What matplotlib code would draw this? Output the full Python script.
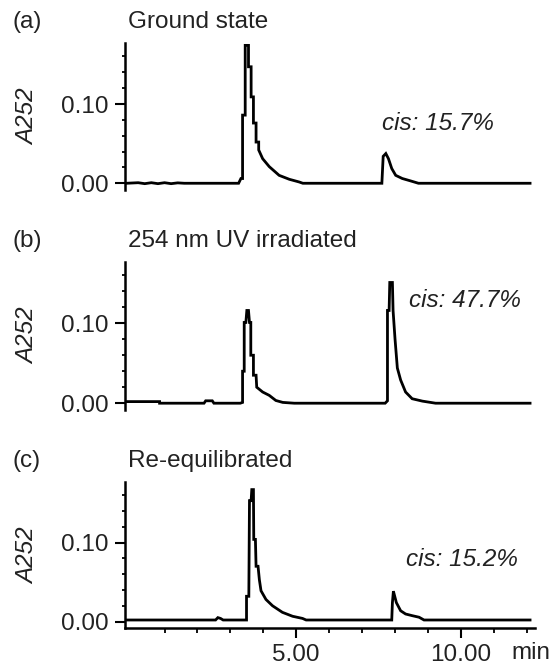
import matplotlib
matplotlib.use("Agg")
import matplotlib.pyplot as plt
from matplotlib.ticker import FixedLocator, MultipleLocator, FormatStrFormatter

plt.rcParams['font.family'] = ['Liberation Sans', 'DejaVu Sans']

# ---- data (retention time in min, absorbance at 252 nm) ----
time_a = [-0.15, 0.2, 0.4, 0.6, 0.8, 1.0, 1.2, 1.4, 1.6, 3.25, 3.32, 3.37, 3.37, 3.45, 3.45,
          3.55, 3.55, 3.63, 3.63, 3.70, 3.70, 3.78, 3.78, 3.86, 3.86, 3.98, 4.18, 4.48, 4.79,
          5.09, 5.20, 7.60, 7.64, 7.72, 7.80, 7.90, 8.02, 8.22, 8.47, 8.71, 12.1]
abs_a = [0.000, 0.0007, -0.0005, 0.0007, -0.0005, 0.0007, -0.0005, 0.0005, 0.000, 0.000, 0.006,
         0.006, 0.086, 0.086, 0.174, 0.174, 0.147, 0.147, 0.109, 0.109, 0.076, 0.076, 0.052,
         0.052, 0.042, 0.031, 0.021, 0.010, 0.005, 0.0016, 0.000, 0.000, 0.034, 0.0375, 0.031,
         0.0186, 0.010, 0.006, 0.003, 0.000, 0.000]

time_b = [-0.15, 0.85, 0.85, 2.2, 2.25, 2.45, 2.5, 3.30, 3.37, 3.37, 3.42, 3.42, 3.47, 3.50,
          3.55, 3.58, 3.62, 3.62, 3.70, 3.70, 3.78, 3.80, 3.98, 4.18, 4.38, 4.59, 4.94,
          7.70, 7.77, 7.77, 7.82, 7.84, 7.92, 7.94, 8.00, 8.07, 8.17, 8.32, 8.52, 8.83, 9.23, 12.1]
abs_b = [0.002, 0.002, 0.000, 0.000, 0.003, 0.003, 0.000, 0.000, 0.001, 0.040, 0.040, 0.101,
         0.101, 0.116, 0.116, 0.101, 0.101, 0.060, 0.060, 0.035, 0.035, 0.020, 0.014, 0.0098,
         0.0034, 0.001, 0.000, 0.000, 0.003, 0.116, 0.116, 0.151, 0.151, 0.116, 0.080, 0.044,
         0.029, 0.014, 0.0056, 0.0026, 0.000, 0.000]

time_c = [-0.15, 2.55, 2.62, 2.70, 2.78, 3.49, 3.49, 3.56, 3.58, 3.63, 3.65, 3.70, 3.71, 3.76,
          3.78, 3.84, 3.88, 3.93, 4.08, 4.28, 4.58, 4.89, 5.19, 5.30, 7.90, 7.92, 7.95, 8.04,
          8.17, 8.32, 8.52, 8.73, 8.88, 12.1]
abs_c = [0.002, 0.002, 0.005, 0.004, 0.002, 0.002, 0.032, 0.032, 0.153, 0.153, 0.167, 0.167,
         0.104, 0.104, 0.070, 0.070, 0.053, 0.039, 0.028, 0.020, 0.0117, 0.0067, 0.004, 0.002,
         0.002, 0.024, 0.0385, 0.024, 0.0137, 0.0096, 0.0075, 0.0055, 0.002, 0.002]

panel_tags = ["(a)", "(b)", "(c)"]
panel_titles = ["Ground state", "254 nm UV irradiated", "Re-equilibrated"]
cis_labels = ["cis: 15.7%", "cis: 47.7%", "cis: 15.2%"]
cis_pos = [(7.6, 0.076), (8.42, 0.129), (8.32, 0.078)]
y_ticks = [0.00, 0.10]
x_ticks = [5.0, 10.0]
x_minor = [1, 2, 3, 4, 6, 7, 8, 9, 11, 12]

W, H = 552, 668
fig = plt.figure(figsize=(W / 100, H / 100), dpi=100)

FS = 17.5
TXT = '#222222'
axes_px = [(43, 190), (261.7, 410), (481.7, 628.3)]  # top, bottom in px
left_px, right_px = 125, 535
traces = [(time_a, abs_a), (time_b, abs_b), (time_c, abs_c)]
YMIN, YMAX = -0.0085, 0.177

for i, ((top, bot), (t, a)) in enumerate(zip(axes_px, traces)):
    ax = fig.add_axes([left_px / W, 1 - bot / H, (right_px - left_px) / W, (bot - top) / H])
    ax.plot(t, a, color='black', lw=2.0, solid_joinstyle='miter', clip_on=False)
    ax.set_xlim(-0.2, 12.25)
    ax.set_ylim(YMIN, YMAX)
    for s in ['top', 'right']:
        ax.spines[s].set_visible(False)
    ax.spines['left'].set_linewidth(1.8)
    ax.spines['bottom'].set_linewidth(1.8)
    ax.yaxis.set_major_locator(FixedLocator(y_ticks))
    ax.yaxis.set_minor_locator(MultipleLocator(0.02))
    ax.yaxis.set_major_formatter(FormatStrFormatter('%.2f'))
    ax.tick_params(axis='y', which='major', length=7, width=1.5, pad=5, labelsize=FS,
                   labelcolor=TXT)
    ax.tick_params(axis='y', which='minor', length=2.5, width=1.3)
    if i < 2:
        ax.spines['bottom'].set_visible(False)
        ax.set_xticks([])
        ax.xaxis.set_minor_locator(FixedLocator([]))
    else:
        ax.xaxis.set_major_locator(FixedLocator(x_ticks))
        ax.xaxis.set_minor_locator(FixedLocator(x_minor))
        ax.xaxis.set_major_formatter(FormatStrFormatter('%.2f'))
        ax.tick_params(axis='x', which='major', length=7, width=1.5, pad=4, labelsize=FS,
                       labelcolor=TXT)
        ax.tick_params(axis='x', which='minor', length=3.5, width=1.3)
    ax.text(cis_pos[i][0], cis_pos[i][1], cis_labels[i], fontsize=FS, style='italic',
            ha='left', va='center', color=TXT)
    # panel tag & title
    ty = 1 - (top - 21) / H
    fig.text(13 / W, ty, panel_tags[i], fontsize=FS, ha='left', va='center', color=TXT)
    fig.text(128 / W, ty, panel_titles[i], fontsize=FS, ha='left', va='center', color=TXT)
    # y label
    ly = top + (YMAX - 0.084) / (YMAX - YMIN) * (bot - top)
    fig.text(28 / W, 1 - ly / H, "A252", fontsize=FS, style='italic', rotation=90,
             ha='center', va='center', color=TXT)

fig.text(550 / W, 1 - 653 / H, "min", fontsize=FS, ha='right', va='center', color=TXT)

fig.savefig("out.png", dpi=100)
